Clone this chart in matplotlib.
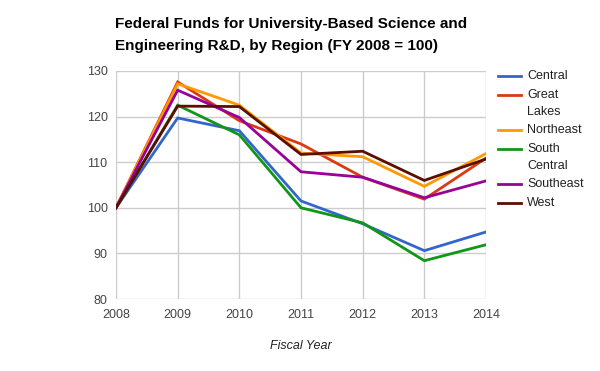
import matplotlib.pyplot as plt
from matplotlib.lines import Line2D

plt.rcParams['font.family'] = ['Liberation Sans', 'DejaVu Sans']

years = [2008, 2009, 2010, 2011, 2012, 2013, 2014]
regiones = ['Central', 'Great Lakes', 'Northeast', 'South Central', 'Southeast', 'West']
etiquetas = [['Central'], ['Great', 'Lakes'], ['Northeast'], ['South', 'Central'], ['Southeast'], ['West']]
colores = ['#3366cc', '#dc3912', '#ff9900', '#109618', '#990099', '#5c0e00']

central = [100, 119.7, 116.9, 101.5, 96.5, 90.6, 94.7]
great_lakes = [100, 127.6, 119.1, 114.0, 106.7, 101.9, 110.9]
northeast = [100, 127.2, 122.5, 112.0, 111.2, 104.7, 111.9]
south_central = [100, 122.5, 116.0, 100.0, 96.7, 88.4, 91.9]
southeast = [100, 125.8, 119.8, 107.9, 106.7, 102.2, 105.9]
west = [100, 122.3, 122.2, 111.7, 112.4, 106.0, 110.7]
series = [central, great_lakes, northeast, south_central, southeast, west]

fig = plt.figure(figsize=(6, 3.71), dpi=100)
ax = fig.add_axes([116 / 600, 72 / 371, 370 / 600, 228 / 371])

for vals, c, name in zip(series, colores, regiones):
    ax.plot(years, vals, color=c, lw=2, label=name, solid_joinstyle='miter')

ax.set_xlim(2008, 2014)
ax.set_ylim(80, 130)
ax.set_xticks(years)
ax.set_yticks(range(80, 131, 10))
ax.grid(True, color='#cccccc', lw=1)
ax.set_axisbelow(True)
for s in ax.spines.values():
    s.set_visible(False)
ax.tick_params(length=0, colors='#444444', labelsize=9, pad=6)
ax.tick_params(axis='x', pad=7)
ax.set_xlabel('Fiscal Year', style='italic', fontsize=9, color='#222222', labelpad=14)

titulo = ['Federal Funds for University-Based Science and',
          'Engineering R&D, by Region (FY 2008 = 100)']
for i, t in enumerate(titulo):
    fig.text(115 / 600, 1 - (24 + 22 * i) / 371, t, fontsize=11, fontweight='bold',
             va='center', ha='left')

# leyenda manual
y = 76
for lineas, c in zip(etiquetas, colores):
    fig.add_artist(Line2D([498 / 600, 521 / 600], [1 - y / 371] * 2, color=c, lw=2))
    for j, txt in enumerate(lineas):
        fig.text(527 / 600, 1 - (y + 17 * j) / 371, txt, fontsize=9, color='#222222',
                 va='center', ha='left')
    y += 19 + 16 * (len(lineas) - 1)

plt.savefig('out.png', dpi=100)
